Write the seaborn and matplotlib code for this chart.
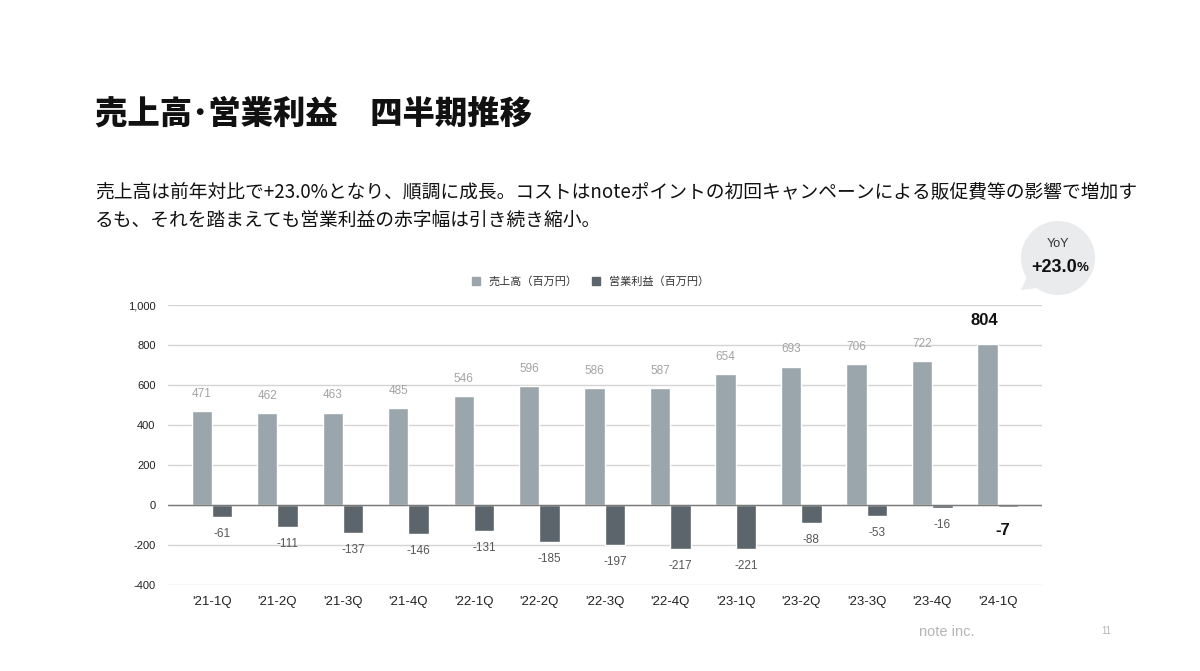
import matplotlib
matplotlib.use("Agg")
import matplotlib.pyplot as plt
from matplotlib.patches import Circle, Polygon, Patch
import seaborn as sns
import pandas as pd

quarters = ["'21-1Q", "'21-2Q", "'21-3Q", "'21-4Q", "'22-1Q", "'22-2Q", "'22-3Q",
            "'22-4Q", "'23-1Q", "'23-2Q", "'23-3Q", "'23-4Q", "'24-1Q"]
revenue = [471, 462, 463, 485, 546, 596, 586, 587, 654, 693, 706, 722, 804]
op_profit = [-61, -111, -137, -146, -131, -185, -197, -217, -221, -88, -53, -16, -7]
series_names = ["売上高（百万円）", "営業利益（百万円）"]
y_ticks = [-400, -200, 0, 200, 400, 600, 800, 1000]

sns.set_theme(style="white")
plt.rcParams['font.family'] = ['Noto Sans CJK JP', 'DejaVu Sans']

df = pd.DataFrame({
    "quarter": quarters * 2,
    "value": revenue + op_profit,
    "series": [series_names[0]] * len(quarters) + [series_names[1]] * len(quarters),
})

fig = plt.figure(figsize=(12, 6.71), dpi=100)
ax = fig.add_axes([0.14, 0.128, 0.728, 0.4173])

palette = {series_names[0]: "#9ba6ac", series_names[1]: "#5b656b"}
sns.barplot(data=df, x="quarter", y="value", hue="series", palette=palette,
            width=0.62, ax=ax, saturation=1, legend=False)

num_font = ['Liberation Sans', 'DejaVu Sans']
ax.set_ylim(-400, 1000)
ax.set_xlim(-0.67, len(quarters) - 0.33)
ax.set_yticks(y_ticks)
ax.set_yticklabels([f"{v:,}" for v in y_ticks], fontsize=8, color="#222222",
                   family=num_font)
ax.tick_params(axis='x', labelsize=9.5, colors="#222222", length=0, pad=8)
ax.tick_params(axis='y', length=0, pad=9)
for lab in ax.get_xticklabels():
    lab.set_family(num_font)
ax.set_xlabel("")
ax.set_ylabel("")
for s in ax.spines.values():
    s.set_visible(False)
ax.yaxis.grid(True, color="#d4d4d4", linewidth=1)
ax.set_axisbelow(True)
ax.axhline(0, color="#7a7a7a", linewidth=1, zorder=1)

# data labels
rev_bars = ax.containers[0]
op_bars = ax.containers[1]
n = len(quarters)
for i, (bar, v) in enumerate(zip(rev_bars, revenue)):
    cx = bar.get_x() + bar.get_width() / 2
    if i == n - 1:
        ax.annotate(f"{v}", (cx - 0.05, v), xytext=(0, 12), textcoords="offset points",
                    ha="center", va="bottom", fontsize=12, fontweight="bold", color="#111111",
                    family=num_font)
    else:
        ax.annotate(f"{v}", (cx, v), xytext=(0, 8), textcoords="offset points",
                    ha="center", va="bottom", fontsize=8.5, color="#a3a3a3",
                    family=num_font)
for i, (bar, v) in enumerate(zip(op_bars, op_profit)):
    cx = bar.get_x() + bar.get_width() / 2
    if i == n - 1:
        ax.annotate(f"{v}", (cx - 0.08, v), xytext=(0, -12), textcoords="offset points",
                    ha="center", va="top", fontsize=12, fontweight="bold", color="#111111",
                    family=num_font)
    else:
        ax.annotate(f"{v}", (cx, v), xytext=(0, -8), textcoords="offset points",
                    ha="center", va="top", fontsize=8.5, color="#555555",
                    family=num_font)

# legend
handles = [Patch(color=palette[s]) for s in series_names]
fig.legend(handles, series_names, loc="center", bbox_to_anchor=(0.492, 0.581),
           ncol=2, frameon=False, fontsize=8, handlelength=0.7, handleheight=0.7,
           columnspacing=1.3, handletextpad=0.8, labelcolor="#333333")

# title and text
fig.text(0.079, 0.831, "売上高･営業利益　四半期推移", fontsize=23.3, fontweight="heavy",
         color="#111111", va="center")
fig.text(0.079, 0.714, "売上高は前年対比で+23.0%となり、順調に成長。コストはnoteポイントの初回キャンペーンによる販促費等の影響で増加す",
         fontsize=13.5, color="#111111", va="center")
fig.text(0.079, 0.672, "るも、それを踏まえても営業利益の赤字幅は引き続き縮小。",
         fontsize=13.5, color="#111111", va="center")

# YoY bubble
circ = Circle((1058, 671 - 258), 37, transform=None, facecolor="#e9ebec",
              edgecolor="none", zorder=5)
fig.patches.append(circ)
tail = Polygon([(1030, 671 - 270), (1045, 671 - 287), (1021, 671 - 290)], closed=True,
               transform=None, facecolor="#e9ebec", edgecolor="none", zorder=5)
fig.patches.append(tail)
fig.text(1058 / 1200, 1 - 244 / 671, "YoY", fontsize=9, color="#333333",
         ha="center", va="center", family=num_font, zorder=6)
fig.text(1054 / 1200, 1 - 267 / 671, "+23.0", fontsize=13, color="#111111",
         fontweight="bold", ha="center", va="center", family=num_font, zorder=6)
fig.text(1077 / 1200, 1 - 268 / 671, "%", fontsize=9.5, color="#111111",
         fontweight="bold", ha="left", va="center", family=num_font, zorder=6)

# footer
fig.text(947 / 1200, 1 - 632 / 671, "note inc.", fontsize=10.5, color="#b5b5b5",
         ha="center", va="center", family=num_font)
fig.text(1106 / 1200, 1 - 631 / 671, "11", fontsize=7, color="#b5b5b5",
         ha="center", va="center", family=num_font)

fig.savefig("out.png", dpi=100)
